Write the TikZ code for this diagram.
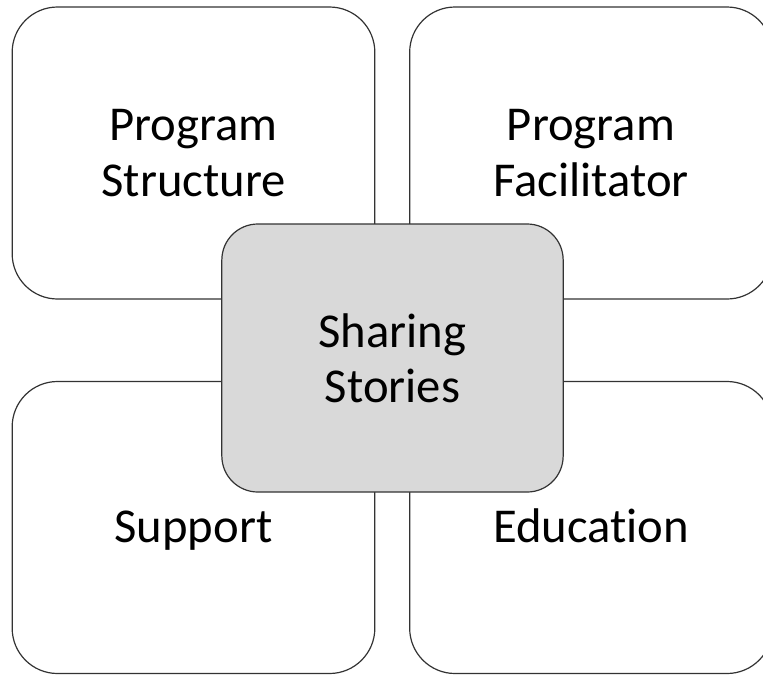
\documentclass[tikz,border=0pt]{standalone}
\usepackage{fontspec}
\setmainfont{Carlito}[Ligatures=NoCommon]

\begin{document}
\begin{tikzpicture}[x=0.75pt,y=0.75pt,yscale=-1,xscale=1,
	outerbox/.style={draw=black!80, line width=0.9pt, rounded corners=34pt, fill=white,
		minimum width=272pt, minimum height=219pt, inner sep=0pt, align=center,
		font=\fontsize{36.5}{41.5}\selectfont},
	oneline/.style={text height=26pt, text depth=3pt},
	corebox/.style={outerbox, fill={rgb, 255:red, 217; green, 217; blue, 217},
		rounded corners=27pt, minimum width=256pt, minimum height=201pt}]
		\useasboundingbox (0,0) rectangle (763,675);
		% four themes round the middle
		\node[outerbox] (structure) at (193.5,153) {Program\\Structure};
		\node[outerbox] (facilitator) at (591,153) {Program\\Facilitator};
		\node[outerbox, oneline] (support) at (193.5,527.5) {Support};
		\node[outerbox, oneline] (education) at (591,527.5) {Education};
		% central theme on top
		\node[corebox] (sharing) at (392.5,358) {Sharing\\Stories};
\end{tikzpicture}
\end{document}
